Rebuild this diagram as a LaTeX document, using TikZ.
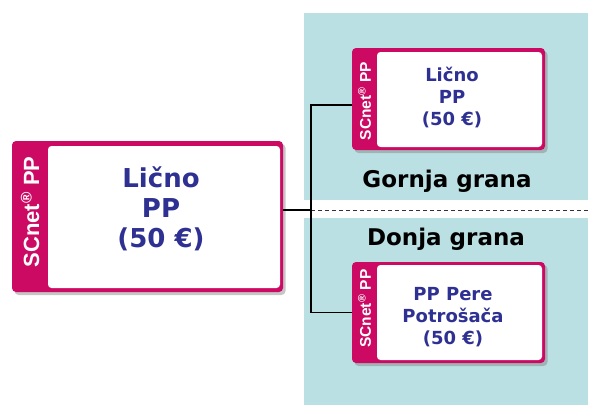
\documentclass[tikz,border=0pt]{standalone}
\usepackage{fontspec}
\setmainfont{DejaVu Sans}
\newfontfamily\sidefont{Liberation Sans}
\usetikzlibrary{shadows}

\definecolor{scnetmagenta}{HTML}{CC0A64}
\definecolor{scnetnavy}{HTML}{2E3092}
\definecolor{branchteal}{HTML}{BBE0E3}

\begin{document}
\begin{tikzpicture}[x=1pt,y=-1pt]
  % Estilos para tarjetas, textos y conectores
  \tikzset{
    card_outer/.style={rectangle,rounded corners=4pt,fill=scnetmagenta,inner sep=0pt,
      drop shadow={shadow xshift=2.5pt,shadow yshift=-3pt,opacity=0.45}},
    card_inner/.style={rectangle,rounded corners=3.5pt,fill=white,inner sep=0pt},
    card_side/.style={rotate=90,text=white,inner sep=0pt},
    card_text/.style={text=scnetnavy,align=center,inner sep=0pt},
    branch_label/.style={text=black,inner sep=0pt,anchor=base,font=\bfseries\fontsize{23}{27}\selectfont},
    connector/.style={black,line width=1.2pt}
  }
  \useasboundingbox (0,0) rectangle (602,415);

  % Fondo de las dos ramas
  \fill[branchteal] (304,13) rectangle (588,200);
  \fill[branchteal] (304,218) rectangle (588,405);

  % Linea divisoria
  \coordinate (j) at (311,210);
  \coordinate (d_end) at (590,210);
  \draw[black!80,line width=0.8pt,dash pattern=on 4pt off 3pt] (j) -- (d_end);

  % Tarjeta izquierda (grande)
  \node[card_outer,minimum width=271pt,minimum height=151pt] (c1) at (147.5,216.5) {};
  \node[card_inner,minimum width=232pt,minimum height=142pt] (w1) at (164,217) {};
  \node[card_side,font=\sidefont\bfseries\fontsize{22}{26}\selectfont] (s1) at (30,212) {SCnet\textsuperscript{®} PP};
  \node[card_text,font=\bfseries\fontsize{26}{30}\selectfont] (t1) at (161,209) {Lično\\PP\\(50 €)};

  % Rama superior
  \node[card_outer,minimum width=193pt,minimum height=102pt] (c2) at (448.5,99) {};
  \node[card_inner,minimum width=165pt,minimum height=95pt] (w2) at (459.5,99.5) {};
  \node[card_side,font=\sidefont\bfseries\fontsize{15.5}{18}\selectfont] (s2) at (364.5,101) {SCnet\textsuperscript{®} PP};
  \node[card_text,font=\bfseries\fontsize{18}{22}\selectfont] (t2) at (452,97.5) {Lično\\PP\\(50 €)};
  \node[branch_label] (g) at (447,187) {Gornja grana};

  % Rama inferior
  \node[branch_label] (d) at (446,245) {Donja grana};
  \node[card_outer,minimum width=193pt,minimum height=101pt] (c3) at (448.5,312.5) {};
  \node[card_inner,minimum width=165pt,minimum height=95pt] (w3) at (459.5,312.5) {};
  \node[card_side,font=\sidefont\bfseries\fontsize{15.5}{18}\selectfont] (s3) at (364.5,308.5) {SCnet\textsuperscript{®} PP};
  \node[card_text,font=\bfseries\fontsize{18}{22}\selectfont] (t3) at (453,317) {PP Pere\\Potrošača\\(50 €)};

  % Conectores
  \draw[connector] ([yshift=6.5pt]c1.east) -- (j);
  \foreach \to/\dy in {c2/-6pt,c3/0pt}
    \draw[connector] (j) |- ([yshift=\dy]\to.west);
\end{tikzpicture}
\end{document}
